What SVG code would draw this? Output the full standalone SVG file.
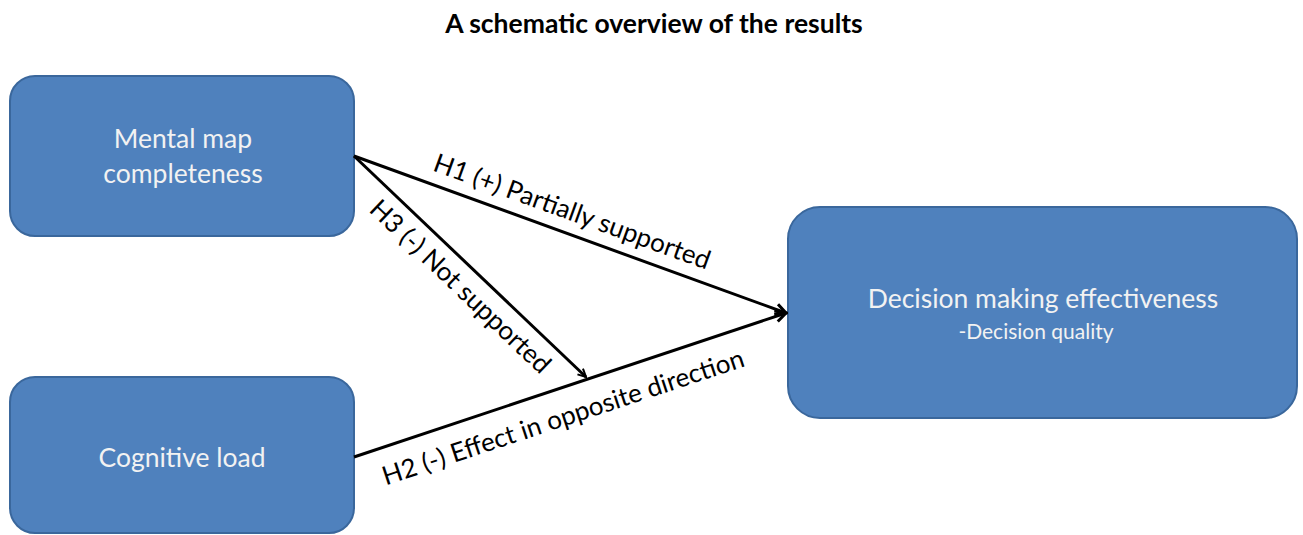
<svg xmlns="http://www.w3.org/2000/svg" width="1303" height="535" viewBox="0 0 1303 535">
<defs>
<style>
.box{fill:#4F81BD;stroke:#3A679C;stroke-width:2}
.bt{font-family:Lato,"Open Sans",sans-serif;fill:#F2F2F2;text-anchor:middle}
.lbl{font-family:Lato,"Open Sans",sans-serif;font-size:26px;fill:#000;text-anchor:middle}
.ln{stroke:#000;stroke-width:3;fill:none}
</style>
<marker id="big" viewBox="0 0 14 14" refX="12" refY="7" markerWidth="14" markerHeight="14" markerUnits="userSpaceOnUse" orient="auto">
<path d="M1.5,1.5 L12,7 L1.5,12.5" fill="none" stroke="#000" stroke-width="3"/>
</marker>
<marker id="small" viewBox="0 0 10 10" refX="9" refY="5" markerWidth="10" markerHeight="10" markerUnits="userSpaceOnUse" orient="auto">
<path d="M1,1 L9,5 L1,9" fill="none" stroke="#000" stroke-width="2"/>
</marker>
</defs>
<rect width="1303" height="535" fill="#fff"/>
<text x="654" y="33" font-family="Lato,'Open Sans',sans-serif" font-weight="bold" font-size="26.5" text-anchor="middle" fill="#000">A schematic overview of the results</text>
<g id="node-mental">
<rect class="box" x="10" y="76" width="344" height="160" rx="25"/>
<text class="bt" x="183" y="148" font-size="26.5">Mental map</text>
<text class="bt" x="183" y="183" font-size="26.5">completeness</text>
</g>
<g id="node-cognitive">
<rect class="box" x="10" y="377" width="344" height="156" rx="25"/>
<text class="bt" x="182" y="467" font-size="26.5">Cognitive load</text>
</g>
<g id="node-decision">
<rect class="box" x="788" y="207" width="509" height="211" rx="32"/>
<text class="bt" x="1043" y="308" font-size="26.5">Decision making effectiveness</text>
<text class="bt" x="1036" y="339" font-size="21">-Decision quality</text>
</g>
<g id="connectors">
<line class="ln" x1="354" y1="156" x2="786" y2="313" marker-end="url(#big)"/>
<line class="ln" x1="354" y1="457" x2="786" y2="313" marker-end="url(#big)"/>
<line class="ln" x1="354" y1="156" x2="586" y2="377" stroke-width="2.5" marker-end="url(#small)"/>
<g transform="translate(354,156) rotate(19.9)"><text class="lbl" x="224" y="-13">H1 (+) Partially supported</text></g>
<g transform="translate(354,156) rotate(43.6)"><text class="lbl" x="167" y="30">H3 (-) Not supported</text></g>
<g transform="translate(354,457) rotate(-18.35)"><text class="lbl" x="211" y="37">H2 (-) Effect in opposite direction</text></g>
</g>
</svg>
